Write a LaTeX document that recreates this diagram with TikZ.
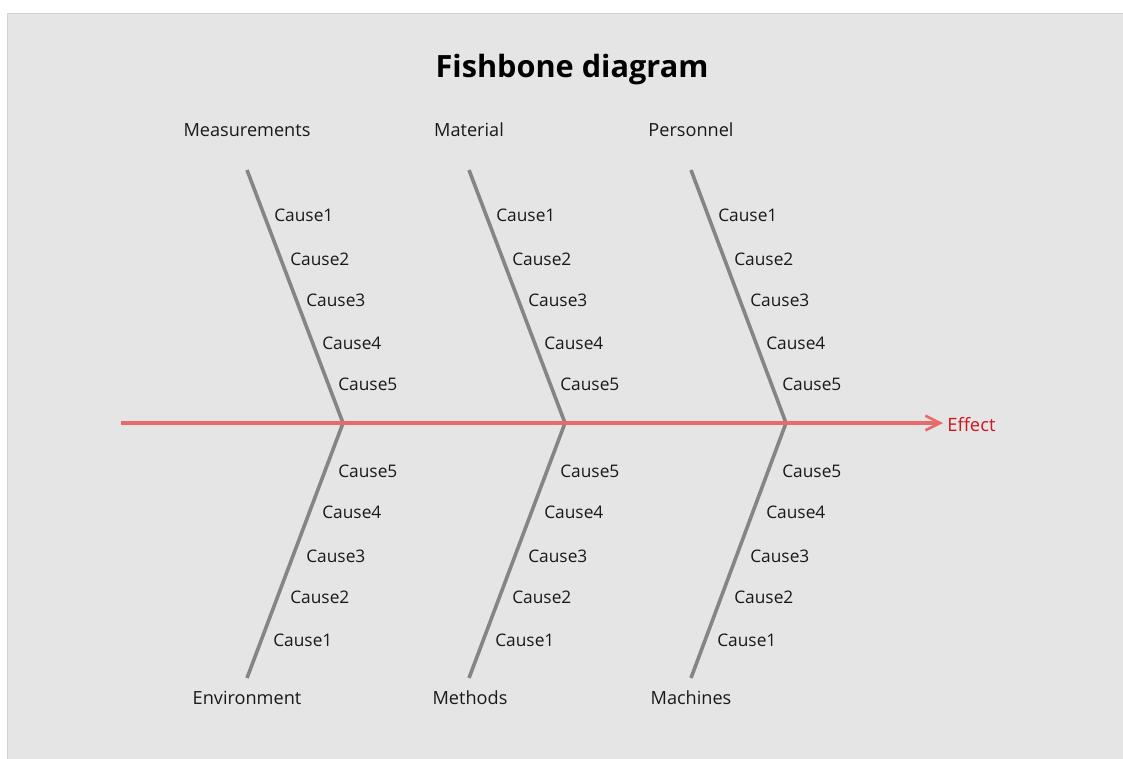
\documentclass[tikz,border=0pt]{standalone}
\usepackage{fontspec}
\setmainfont{Open Sans}
\usetikzlibrary{arrows.meta}
\definecolor{bgc}{HTML}{E5E5E5}
\definecolor{brd}{HTML}{D2D2D2}
\definecolor{spinec}{HTML}{E86A6A}
\definecolor{effc}{HTML}{D0161E}
\definecolor{bonec}{HTML}{858585}
\tikzset{
  bone/.style={draw=bonec, line width=2.7pt},
  spine/.style={draw=spinec, line width=2.7pt, -{Straight Barb[length=11pt,width=11pt,line width=2pt]}},
  cause/.style={anchor=west, inner sep=0pt, font=\fontsize{13}{15}\selectfont, text=black!90},
  cat/.style={inner sep=0pt, font=\fontsize{13.6}{16}\selectfont, text=black!90},
  ttl/.style={inner sep=0pt, font=\fontsize{23}{27}\selectfont\bfseries},
}
\begin{document}
\begin{tikzpicture}[x=0.75pt,y=-0.75pt]
\useasboundingbox (0,0) rectangle (1123,758);
\fill[white] (0,0) rectangle (1123,758);
\filldraw[fill=bgc, draw=brd, line width=0.75pt] (7.5,13.5) rectangle (1130,770);
\node[ttl] (title) at (572,70) {Fishbone diagram};
% spine
\coordinate (tail) at (121,423);
\node[anchor=west, inner sep=0pt, text=effc, font=\fontsize{13.8}{16}\selectfont] (effect) at (947,425) {Effect};
\coordinate (head) at (943,423);
% junctions
\coordinate (j1) at (343,423);
\coordinate (j2) at (565,423);
\coordinate (j3) at (786,423);
% top ends
\coordinate (t1) at (247,170);
\coordinate (t2) at (469,170);
\coordinate (t3) at (691,170);
% bottom ends
\coordinate (b1) at (247,678);
\coordinate (b2) at (469,678);
\coordinate (b3) at (691,678);
\draw[bone] (t1) -- (j1) -- (b1);
\draw[bone] (t2) -- (j2) -- (b2);
\draw[bone] (t3) -- (j3) -- (b3);
\draw[spine] (tail) -- (head);
% categories
\node[cat] (meas) at (247,130) {Measurements};
\node[cat] (mat) at (469,130) {Material};
\node[cat] (pers) at (691,130) {Personnel};
\node[cat] (env) at (247,698) {Environment};
\node[cat] (meth) at (470,698) {Methods};
\node[cat] (mach) at (691,698) {Machines};
% causes
\foreach \dx/\n in {0/a,222/b,444/c}{
  \node[cause] (tc1\n) at (274+\dx,215) {Cause1};
  \node[cause] (tc2\n) at (290+\dx,259) {Cause2};
  \node[cause] (tc3\n) at (306+\dx,300) {Cause3};
  \node[cause] (tc4\n) at (322+\dx,343) {Cause4};
  \node[cause] (tc5\n) at (338+\dx,384) {Cause5};
  \node[cause] (bc5\n) at (338+\dx,471) {Cause5};
  \node[cause] (bc4\n) at (322+\dx,512) {Cause4};
  \node[cause] (bc3\n) at (306+\dx,556) {Cause3};
  \node[cause] (bc2\n) at (290+\dx,597) {Cause2};
  \node[cause] (bc1\n) at (273+\dx,640) {Cause1};
}
\end{tikzpicture}
\end{document}
